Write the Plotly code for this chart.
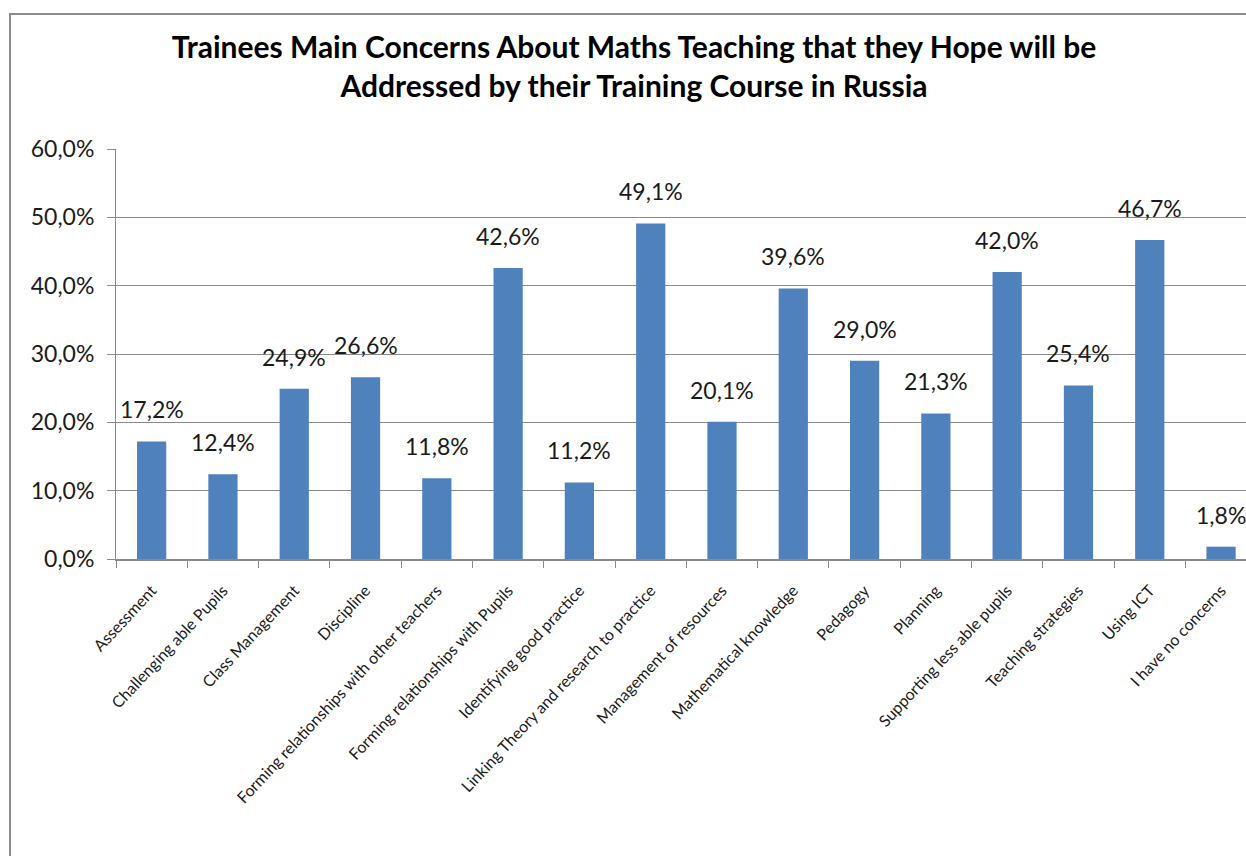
import plotly.graph_objects as go

categories = [
    "Assessment", "Challenging able Pupils", "Class Management", "Discipline",
    "Forming relationships with other teachers", "Forming relationships with Pupils",
    "Identifying good practice", "Linking Theory and research to practice",
    "Management of resources", "Mathematical knowledge", "Pedagogy", "Planning",
    "Supporting less able pupils", "Teaching strategies", "Using ICT", "I have no concerns",
]
values = [17.2, 12.4, 24.9, 26.6, 11.8, 42.6, 11.2, 49.1, 20.1, 39.6, 29.0, 21.3, 42.0, 25.4, 46.7, 1.8]
y_ticks = [0, 10, 20, 30, 40, 50, 60]
title_text = "Trainees Main Concerns About Maths Teaching that they Hope will be<br>Addressed by their Training Course in Russia"


def pct(v):
    return f"{v:.1f}".replace(".", ",") + "%"


FONT = "Lato"
W, H = 1246, 856
L, R, T, B = 116, 0, 149, 297

fig = go.Figure()
fig.add_trace(go.Bar(
    x=categories, y=values, width=0.41,
    marker=dict(color="#4F81BD", line=dict(width=0)),
    hoverinfo="x+y",
))

for c, v in zip(categories, values):
    fig.add_annotation(
        x=c, y=v, text=pct(v),
        showarrow=False, yanchor="bottom", yshift=16,
        font=dict(family=FONT, size=23, color="#1a1a1a"),
    )

pw = W - L - R
ph = H - T - B
# chart frame (Excel chart area border)
fig.add_shape(type="rect", xref="paper", yref="paper",
              x0=(10 - L) / pw, x1=(W + 20 - L) / pw,
              y0=-(H + 20 - T - ph) / ph, y1=(H - B - 14) / ph,
              line=dict(color="#8c8c8c", width=2), fillcolor="rgba(0,0,0,0)", layer="below")

fig.update_layout(
    width=W, height=H,
    margin=dict(l=L, r=R, t=T, b=B),
    paper_bgcolor="white", plot_bgcolor="white",
    separators=", ",
    showlegend=False,
    title=dict(text=title_text, x=(634 - L) / pw, xref="paper", xanchor="center",
               y=1 - 58 / H, yanchor="middle",
               font=dict(family=FONT, size=30, color="#000000", weight="bold")),
    font=dict(family=FONT),
    bargap=0.59,
)
fig.update_yaxes(
    range=[0, 60], tickvals=y_ticks, ticktext=[pct(t) for t in y_ticks],
    showgrid=True, gridcolor="#8a8a8a", gridwidth=1,
    showline=True, linecolor="#8a8a8a", linewidth=1,
    ticks="outside", ticklen=8, tickcolor="#8a8a8a", ticklabelstandoff=8,
    tickfont=dict(family=FONT, size=23, color="#1a1a1a"),
    zeroline=False,
)
fig.update_xaxes(
    range=[-0.5, 15.35], tickangle=-47,
    showline=True, linecolor="#8a8a8a", linewidth=2,
    ticks="outside", ticklen=7, tickcolor="#8a8a8a", tickson="boundaries",
    ticklabelstandoff=14,
    tickfont=dict(family=FONT, size=16, color="#1a1a1a"),
    showgrid=False,
)

fig.write_html("out.html")
